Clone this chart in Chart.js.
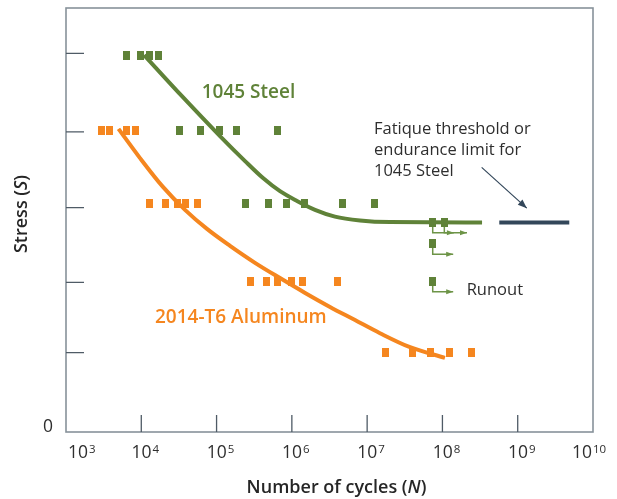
<!DOCTYPE html>
<html>
<head>
<meta charset="utf-8">
<script src="https://cdn.jsdelivr.net/npm/chart.js@4"></script>
<style>
  html, body { margin: 0; padding: 0; background: #ffffff; }
  #wrap { position: relative; width: 617px; height: 499px; }
</style>
</head>
<body>
<div id="wrap"><canvas id="c" width="617" height="499"></canvas></div>
<script>
// ---------------- DATA ----------------
const X_EXPONENTS = [3, 4, 5, 6, 7, 8, 9, 10];
const N_TICKS = X_EXPONENTS.map(e => Math.pow(10, e));
const S_TICKS = [0, 18.7, 35.3, 52.9, 70.8, 89.3];
const S_TICK_LABELS = ['0', '', '', '', '', ''];

// 1045 Steel test points
const steelN = [6.4e3, 9.8e3, 1.27e4, 1.67e4,
                3.23e4, 6.08e4, 1.09e5, 1.85e5, 6.41e5,
                2.44e5, 4.86e5, 8.54e5, 1.45e6, 4.68e6, 1.25e7];
const steelS = [88.9, 88.9, 88.9, 88.9,
                71.1, 71.1, 71.1, 71.1, 71.1,
                53.8, 53.8, 53.8, 53.8, 53.8, 53.8];
// 1045 Steel runouts
const runoutN = [7.43e7, 1.06e8, 7.43e7, 7.43e7];
const runoutS = [49.4, 49.4, 44.4, 35.4];
const runoutArrowEndN = [1.42e8, 2.12e8, 1.39e8, 1.39e8];
const runoutArrowS = [47.0, 47.0, 41.9, 33.1];

// 2014-T6 Aluminum test points
const aluN = [2.94e3, 3.84e3, 6.27e3, 8.45e3,
              1.28e4, 2.08e4, 3.07e4, 3.81e4, 5.61e4,
              2.81e5, 4.58e5, 6.35e5, 1.0e6, 1.39e6, 4.06e6,
              1.75e7, 4.0e7, 6.9e7, 1.23e8, 2.46e8];
const aluS = [71.1, 71.1, 71.1, 71.1,
              53.8, 53.8, 53.8, 53.8, 53.8,
              35.4, 35.4, 35.4, 35.4, 35.4, 35.4,
              18.7, 18.7, 18.7, 18.7, 18.7];

// S-N fitted curves
const steelCurveN = [1.09e4, 3.47e4, 1.11e5, 2.39e5, 4.14e5, 6.96e5, 1.17e6, 2.03e6, 3.74e6, 8.04e6, 2.01e7, 3.36e8];
const steelCurveS = [88.9, 79.2, 69.8, 63.9, 59.9, 56.8, 54.5, 52.4, 50.8, 49.9, 49.5, 49.4];
const aluCurveN = [4.98e3, 9.62e3, 1.94e4, 3.81e4, 7.46e4, 1.51e5, 3.24e5, 6.96e5, 1.50e6, 3.21e6, 6.90e6, 1.48e7, 3.71e7, 1.08e8];
const aluCurveS = [71.5, 64.6, 57.8, 52.4, 47.9, 43.9, 39.9, 36.3, 32.8, 29.5, 26.4, 23.3, 20.0, 17.5];

// Endurance limit for 1045 Steel
const enduranceN = [5.69e8, 4.84e9];
const enduranceS = [49.4, 49.4];
const pointerN = [3.32e8, 1.32e9];
const pointerS = [62.4, 52.8];

// Text annotations
const labelTexts = ['1045 Steel', '2014-T6 Aluminum', 'Runout'];
const labelN = [6.35e4, 1.52e4, 2.1e8];
const labelS = [80.1, 26.9, 33.5];
const noteLines = ['Fatique threshold or', 'endurance limit for', '1045 Steel'];
const noteN = 1.233e7;
const noteS = 70.2;
const xTitle = ['Number of cycles (', 'N', ')'];
const yTitle = ['Stress (', 'S', ')'];

// ---------------- STYLE ----------------
const GREEN = '#5f8238';
const GREEN_ARROW = '#6d9447';
const ORANGE = '#f5861f';
const NAVY = '#33475a';
const FRAME = '#87929a';
const TICK = '#4f5b66';
const TEXT = '#2e2e2e';
const FONT = '"Open Sans", "Noto Sans", sans-serif';

function rectMarker(color) {
  const c = document.createElement('canvas');
  c.width = 7; c.height = 9;
  const g = c.getContext('2d');
  g.fillStyle = color;
  g.fillRect(0, 0, 7, 9);
  return c;
}
const toXY = (xs, ys) => xs.map((x, i) => ({ x: x, y: ys[i] }));

function drawArrow(ctx, pts, color, lw, headLen, headW) {
  ctx.save();
  ctx.strokeStyle = color; ctx.fillStyle = color; ctx.lineWidth = lw;
  ctx.lineJoin = 'miter';
  ctx.beginPath();
  ctx.moveTo(pts[0].x, pts[0].y);
  for (let i = 1; i < pts.length; i++) ctx.lineTo(pts[i].x, pts[i].y);
  ctx.stroke();
  const a = pts[pts.length - 2], b = pts[pts.length - 1];
  const ang = Math.atan2(b.y - a.y, b.x - a.x);
  ctx.translate(b.x, b.y); ctx.rotate(ang);
  ctx.beginPath();
  ctx.moveTo(0, 0); ctx.lineTo(-headLen, -headW / 2); ctx.lineTo(-headLen, headW / 2);
  ctx.closePath(); ctx.fill();
  ctx.restore();
}

function drawParts(ctx, parts, x, y, align) {
  let total = 0;
  const widths = parts.map(p => { ctx.font = p.f; const w = ctx.measureText(p.t).width; total += w; return w; });
  let cx = align === 'center' ? x - total / 2 : (align === 'right' ? x - total : x);
  ctx.textAlign = 'left';
  parts.forEach((p, i) => { ctx.font = p.f; ctx.fillText(p.t, cx, y); cx += widths[i]; });
}

const annot = {
  id: 'annot',
  beforeDatasetsDraw(chart) {
    const ctx = chart.ctx, xs = chart.scales.x, ys = chart.scales.y;
    runoutN.forEach((n, i) => {
      const pts = [
        { x: xs.getPixelForValue(n), y: ys.getPixelForValue(runoutS[i]) },
        { x: xs.getPixelForValue(n), y: ys.getPixelForValue(runoutArrowS[i]) },
        { x: xs.getPixelForValue(runoutArrowEndN[i]), y: ys.getPixelForValue(runoutArrowS[i]) }
      ];
      drawArrow(ctx, pts, GREEN_ARROW, 1.5, 7, 5);
    });
  },
  afterDatasetsDraw(chart) {
    const ctx = chart.ctx, xs = chart.scales.x, ys = chart.scales.y, ca = chart.chartArea;
    ctx.save();
    ctx.strokeStyle = FRAME; ctx.lineWidth = 1.6;
    ctx.strokeRect(ca.left, ca.top, ca.right - ca.left, ca.bottom - ca.top);
    ctx.strokeStyle = TICK; ctx.lineWidth = 1.3;
    ctx.beginPath();
    S_TICKS.forEach(v => {
      if (v === 0) return;
      const y = ys.getPixelForValue(v);
      ctx.moveTo(ca.left, y); ctx.lineTo(ca.left + 18, y);
    });
    N_TICKS.forEach((v, i) => {
      if (i === 0 || i === N_TICKS.length - 1) return;
      const x = xs.getPixelForValue(v);
      ctx.moveTo(x, ca.bottom); ctx.lineTo(x, ca.bottom - 17);
    });
    ctx.stroke();

    ctx.fillStyle = TEXT; ctx.textBaseline = 'alphabetic';
    const baseF = '17.5px ' + FONT, expF = '11.5px ' + FONT;
    N_TICKS.forEach((v, i) => {
      const x = xs.getPixelForValue(v);
      ctx.font = baseF; const w1 = ctx.measureText('10').width;
      ctx.font = expF; const w2 = ctx.measureText(String(X_EXPONENTS[i])).width;
      const w = w1 + 1 + w2;
      let left;
      if (i === 0) left = x + 2;
      else if (i === N_TICKS.length - 1) left = x - 4 - w / 2;
      else left = x + 4 - w / 2;
      ctx.textAlign = 'left';
      ctx.font = baseF; ctx.fillText('10', left, 458);
      ctx.font = expF; ctx.fillText(String(X_EXPONENTS[i]), left + w1 + 1, 453);
    });
    ctx.font = baseF; ctx.textAlign = 'right';
    S_TICKS.forEach((v, i) => {
      if (!S_TICK_LABELS[i]) return;
      ctx.fillText(S_TICK_LABELS[i], ca.left - 13, ys.getPixelForValue(v));
    });

    const tb = '600 18px ' + FONT, ti = 'italic 600 18px ' + FONT;
    ctx.fillStyle = '#262626';
    drawParts(ctx, [{ t: xTitle[0], f: tb }, { t: xTitle[1], f: ti }, { t: xTitle[2], f: tb }],
      (ca.left + ca.right) / 2 + 7, 493, 'center');
    ctx.save();
    ctx.translate(27, 214); ctx.rotate(-Math.PI / 2);
    drawParts(ctx, [{ t: yTitle[0], f: tb }, { t: yTitle[1], f: ti }, { t: yTitle[2], f: tb }], 0, 0, 'center');
    ctx.restore();

    ctx.textBaseline = 'middle'; ctx.textAlign = 'left';
    const lblColors = [GREEN, ORANGE, TEXT];
    const lblFonts = ['600 19px ' + FONT, '600 19px ' + FONT, '16.5px ' + FONT];
    labelTexts.forEach((t, i) => {
      ctx.fillStyle = lblColors[i]; ctx.font = lblFonts[i];
      ctx.fillText(t, xs.getPixelForValue(labelN[i]), ys.getPixelForValue(labelS[i]));
    });
    ctx.fillStyle = TEXT; ctx.font = '16.5px ' + FONT; ctx.textBaseline = 'alphabetic';
    const nx = xs.getPixelForValue(noteN), ny = ys.getPixelForValue(noteS);
    noteLines.forEach((t, i) => ctx.fillText(t, nx, ny + i * 20.8));
    drawArrow(ctx, [
      { x: xs.getPixelForValue(pointerN[0]), y: ys.getPixelForValue(pointerS[0]) },
      { x: xs.getPixelForValue(pointerN[1]), y: ys.getPixelForValue(pointerS[1]) }
    ], NAVY, 1.2, 9, 7);
    ctx.restore();
  }
};

const datasets = [
  { type: 'line', data: toXY(steelCurveN, steelCurveS), borderColor: GREEN, borderWidth: 4,
    pointRadius: 0, cubicInterpolationMode: 'monotone', fill: false, borderCapStyle: 'butt' },
  { type: 'line', data: toXY(aluCurveN, aluCurveS), borderColor: ORANGE, borderWidth: 4,
    pointRadius: 0, cubicInterpolationMode: 'monotone', fill: false, borderCapStyle: 'butt' },
  { type: 'line', data: toXY(enduranceN, enduranceS), borderColor: NAVY, borderWidth: 4,
    pointRadius: 0, fill: false, borderCapStyle: 'butt' },
  { type: 'scatter', data: toXY(steelN, steelS), pointStyle: rectMarker(GREEN), pointRadius: 4 },
  { type: 'scatter', data: toXY(runoutN, runoutS), pointStyle: rectMarker(GREEN), pointRadius: 4 },
  { type: 'scatter', data: toXY(aluN, aluS), pointStyle: rectMarker(ORANGE), pointRadius: 4 }
];

const chart = new Chart(document.getElementById('c'), {
  type: 'scatter',
  data: { datasets: datasets },
  options: {
    responsive: false,
    animation: false,
    devicePixelRatio: 1,
    layout: { padding: { left: 0, right: 24, top: 8, bottom: 0 } },
    plugins: { legend: { display: false }, tooltip: { enabled: false } },
    scales: {
      x: {
        type: 'logarithmic', min: 1e3, max: 1e10,
        grid: { display: false }, border: { display: false },
        ticks: { display: false },
        afterBuildTicks: s => { s.ticks = N_TICKS.map(v => ({ value: v })); },
        afterFit: s => { s.height = 67; }
      },
      y: {
        type: 'linear', min: 0, max: 100,
        grid: { display: false }, border: { display: false },
        ticks: { display: false },
        afterBuildTicks: s => { s.ticks = S_TICKS.map(v => ({ value: v })); },
        afterFit: s => { s.width = 66; }
      }
    }
  },
  plugins: [annot]
});
if (document.fonts && document.fonts.ready) {
  document.fonts.ready.then(() => chart.draw());
}
</script>
</body>
</html>
